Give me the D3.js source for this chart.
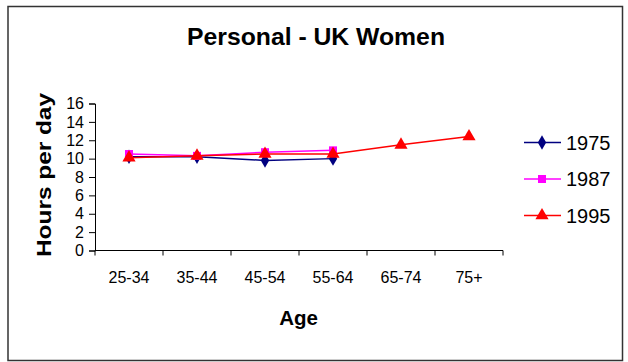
<!DOCTYPE html>
<html>
<head>
<meta charset="utf-8">
<script src="https://cdn.jsdelivr.net/npm/d3@7"></script>
<style>
  body { margin: 0; background: #fff; }
  text { font-family: "Liberation Sans", Arial, sans-serif; }
</style>
</head>
<body>
<svg id="chart" width="628" height="362"></svg>
<script>
// data
let ages = ["25-34", "35-44", "45-54", "55-64", "65-74", "75+"];
let years = ["1975", "1987", "1995"];
let hours1975 = [10.2, 10.2, 9.8, 10.0];
let hours1987 = [10.5, 10.3, 10.7, 10.9];
let hours1995 = [10.1, 10.3, 10.5, 10.5, 11.5, 12.4];
let yTicks = [0, 2, 4, 6, 8, 10, 12, 14, 16];

let series = [
  { name: "1975", values: hours1975, color: "#000080", shape: d3.symbolDiamond, size: 60 },
  { name: "1987", values: hours1987, color: "#ff00ff", shape: d3.symbolSquare, size: 64 },
  { name: "1995", values: hours1995, color: "#ff0000", shape: d3.symbolTriangle, size: 75 }
];

let svg = d3.select("svg#chart");

// outer frame
svg.append("rect")
  .attr("x", 8).attr("y", 6.5)
  .attr("width", 614.5).attr("height", 354)
  .attr("fill", "#fff")
  .attr("stroke", "#333")
  .attr("stroke-width", 1.5);

let x = d3.scaleBand().domain(ages).range([95, 503]);
let y = d3.scaleLinear().domain([0, 16]).range([250.5, 103.5]);

// y axis
let yAxis = svg.append("g")
  .attr("transform", "translate(95,0)")
  .call(d3.axisLeft(y).tickValues(yTicks).tickSize(6).tickPadding(5));
yAxis.select(".domain").attr("stroke", "#000");
yAxis.selectAll(".tick line").attr("stroke", "#000");
yAxis.selectAll("text").attr("font-size", 16).attr("fill", "#000")
  .style("font-family", "Liberation Sans, Arial, sans-serif");

// x axis: labels centred in bands, ticks at band edges
let xAxis = svg.append("g")
  .attr("transform", "translate(0,250.5)")
  .call(d3.axisBottom(x).tickSize(0).tickPadding(21));
xAxis.select(".domain").remove();
xAxis.selectAll("text").attr("font-size", 16).attr("fill", "#000")
  .style("font-family", "Liberation Sans, Arial, sans-serif");

let edges = ages.map(a => x(a)).concat([x.range()[1]]);
svg.append("line")
  .attr("x1", x.range()[0]).attr("x2", x.range()[1])
  .attr("y1", y(0)).attr("y2", y(0))
  .attr("stroke", "#000");
svg.selectAll("line.xtick")
  .data(edges)
  .enter()
  .append("line")
  .attr("class", "xtick")
  .attr("x1", d => d).attr("x2", d => d)
  .attr("y1", y(0)).attr("y2", y(0) + 5)
  .attr("stroke", "#000");

// lines and markers
let line = d3.line()
  .x((d, i) => x(ages[i]) + x.bandwidth() / 2)
  .y(d => y(d));

series.forEach(s => {
  svg.append("path")
    .datum(s.values)
    .attr("d", line)
    .attr("fill", "none")
    .attr("stroke", s.color)
    .attr("stroke-width", 1.5);
  svg.selectAll("path.m" + s.name)
    .data(s.values)
    .enter()
    .append("path")
    .attr("class", "m" + s.name)
    .attr("d", d3.symbol().type(s.shape).size(s.size))
    .attr("transform", (d, i) => `translate(${x(ages[i]) + x.bandwidth() / 2},${y(d)})`)
    .attr("fill", s.color);
});

// legend
let legendY = d3.scalePoint().domain(years).range([142.5, 215.5]);
series.forEach(s => {
  let g = svg.append("g").attr("transform", `translate(0,${legendY(s.name)})`);
  g.append("line").attr("x1", 524).attr("x2", 561)
    .attr("stroke", s.color).attr("stroke-width", 1.5);
  g.append("path")
    .attr("d", d3.symbol().type(s.shape).size(s.size))
    .attr("transform", "translate(542,0)")
    .attr("fill", s.color);
  g.append("text").attr("x", 566).attr("y", 7)
    .attr("font-size", 20)
    .text(s.name);
});

// titles
svg.append("text")
  .attr("x", 187).attr("y", 45)
  .attr("font-size", 23).attr("font-weight", "bold")
  .attr("textLength", 258).attr("lengthAdjust", "spacingAndGlyphs")
  .text("Personal - UK Women");

svg.append("text")
  .attr("x", 298.5).attr("y", 325)
  .attr("text-anchor", "middle")
  .attr("font-size", 20.5).attr("font-weight", "bold")
  .text("Age");

svg.append("text")
  .attr("transform", "translate(51,257) rotate(-90)")
  .attr("font-size", 21).attr("font-weight", "bold")
  .attr("textLength", 164).attr("lengthAdjust", "spacingAndGlyphs")
  .text("Hours per day");
</script>
</body>
</html>
